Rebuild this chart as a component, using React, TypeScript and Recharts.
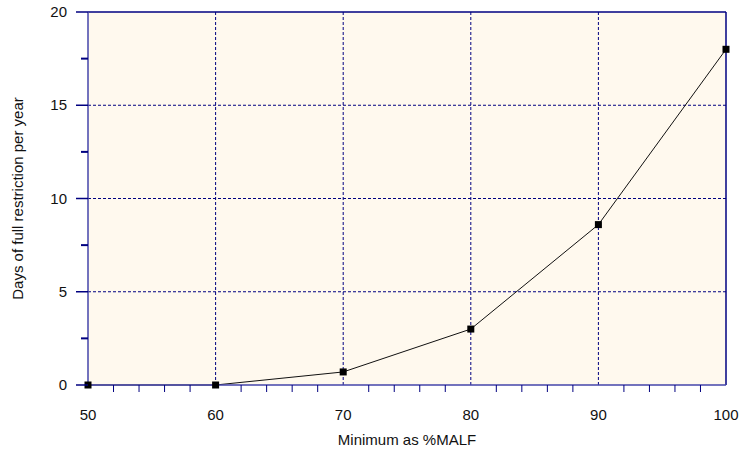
import { LineChart, Line, XAxis, YAxis, CartesianGrid, ReferenceLine, Label } from 'recharts'

// values
const minimumPct = [50, 60, 70, 80, 90, 100]
const fullRestrictionDays = [0, 0, 0.7, 3, 8.6, 18]

const xTicks = [50, 52, 54, 56, 58, 60, 62, 64, 66, 68, 70, 72, 74, 76, 78, 80, 82, 84, 86, 88, 90, 92, 94, 96, 98, 100]
const yTicks = [0, 2.5, 5, 7.5, 10, 12.5, 15, 17.5, 20]
const xGrid = [60, 70, 80, 90]
const yGrid = [5, 10, 15]

const data = minimumPct.map((m, i) => ({ m, days: fullRestrictionDays[i] }))

const NAVY = '#000080'
const AXIS = '#4444aa'
const FONT = '"Liberation Sans", Arial, sans-serif'

function XTick(props: any) {
  const { x, y, payload } = props
  const v = payload.value as number
  const major = v % 10 === 0
  return (
    <g>
      {!major && <line x1={x} x2={x} y1={y} y2={y + 7} stroke={NAVY} strokeWidth={1} />}
      {major && (
        <text x={x} y={y + 35} textAnchor="middle" fontSize={15} fontFamily={FONT} fill="#111">
          {v}
        </text>
      )}
    </g>
  )
}

function YTick(props: any) {
  const { x, y, payload } = props
  const v = payload.value as number
  const major = v % 5 === 0
  return (
    <g>
      <line x1={x - (major ? 12 : 7)} x2={x} y1={y} y2={y} stroke={NAVY} strokeWidth={major ? 1.5 : 2} />
      {major && (
        <text x={x - 21} y={y + 5} textAnchor="end" fontSize={15} fontFamily={FONT} fill="#111">
          {v}
        </text>
      )}
    </g>
  )
}

function SquareDot(props: any) {
  const { cx, cy } = props
  if (cx == null || cy == null) return null
  return <rect x={cx - 3.5} y={cy - 3.5} width={7} height={7} fill="#000" />
}

export default function App() {
  return (
    <div style={{ position: 'absolute', left: 0, top: 0, width: 740, height: 452, background: '#fff' }}>
      <LineChart width={740} height={452} data={data} margin={{ top: 12, right: 14, bottom: 27, left: 28 }}>
        <CartesianGrid
          fill="#fff9ee"
          stroke={NAVY}
          strokeDasharray="3 2"
          strokeWidth={1}
          verticalValues={xGrid}
          horizontalValues={yGrid}
        />
        <XAxis
          dataKey="m"
          type="number"
          domain={[50, 100]}
          ticks={xTicks}
          interval={0}
          height={40}
          tickSize={0}
          tickMargin={0}
          tick={<XTick />}
          stroke={AXIS}
          strokeWidth={1.5}
        >
          <Label value="Minimum as %MALF" position="insideBottom" offset={-20} fontSize={15} fontFamily={FONT} fill="#111" />
        </XAxis>
        <YAxis
          type="number"
          domain={[0, 20]}
          ticks={yTicks}
          interval={0}
          width={60}
          tickSize={0}
          tickMargin={0}
          tick={<YTick />}
          stroke={AXIS}
          strokeWidth={1.5}
        >
          <Label
            value="Days of full restriction per year"
            angle={-90}
            position="insideLeft"
            offset={-10}
            style={{ textAnchor: 'middle' }}
            fontSize={15}
            fontFamily={FONT}
            fill="#111"
          />
        </YAxis>
        <ReferenceLine y={20} stroke={NAVY} strokeWidth={1.5} />
        <ReferenceLine x={100} stroke={NAVY} strokeWidth={1.5} />
        <Line
          dataKey="days"
          stroke="#111"
          strokeWidth={1}
          dot={<SquareDot />}
          activeDot={false}
          isAnimationActive={false}
        />
      </LineChart>
    </div>
  )
}
